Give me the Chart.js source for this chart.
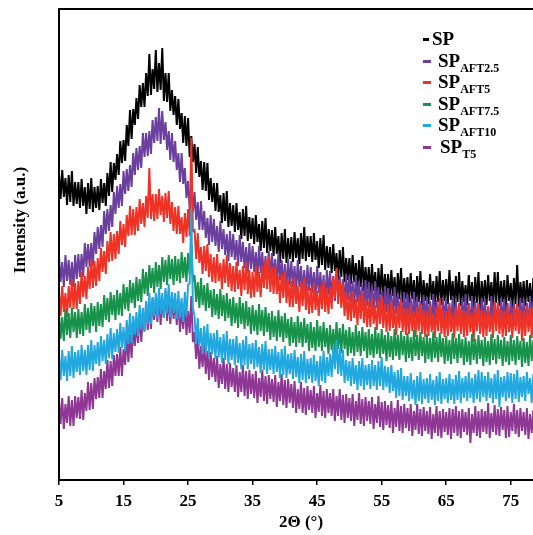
<!DOCTYPE html>
<html>
<head>
<meta charset="utf-8">
<script src="https://cdn.jsdelivr.net/npm/chart.js@4.4.1/dist/chart.umd.min.js"></script>
<style>
  html, body { margin: 0; padding: 0; background: #fff; overflow: hidden; }
  #wrap { position: relative; width: 533px; height: 535px; overflow: hidden; }
  #xrd { position: absolute; left: 0; top: 0; }
  #legend { position: absolute; left: 423px; top: 28px; font-family: "Liberation Serif", "Times New Roman", serif; font-weight: bold; color: #000; }
  .row { position: absolute; left: 0; height: 22px; white-space: nowrap; }
  .dash { position: absolute; top: 10px; height: 3px; }
  .name { position: absolute; top: 0; font-size: 19px; line-height: 22px; }
  .name sub { font-size: 12px; vertical-align: -5px; line-height: 0; }
</style>
</head>
<body>
<div id="wrap">
  <canvas id="xrd" width="545" height="535"></canvas>
  <div id="legend"></div>
</div>
<script>
// 2-theta grid (degrees), one row per degree
const twoTheta = [
  5,5.25,5.5,5.75, 6,6.25,6.5,6.75, 7,7.25,7.5,7.75, 8,8.25,8.5,8.75, 9,9.25,9.5,9.75,
  10,10.25,10.5,10.75, 11,11.25,11.5,11.75, 12,12.25,12.5,12.75, 13,13.25,13.5,13.75, 14,14.25,14.5,14.75,
  15,15.25,15.5,15.75, 16,16.25,16.5,16.75, 17,17.25,17.5,17.75, 18,18.25,18.5,18.75, 19,19.25,19.5,19.75,
  20,20.25,20.5,20.75, 21,21.25,21.5,21.75, 22,22.25,22.5,22.75, 23,23.25,23.5,23.75, 24,24.25,24.5,24.75,
  25,25.25,25.5,25.75, 26,26.25,26.5,26.75, 27,27.25,27.5,27.75, 28,28.25,28.5,28.75, 29,29.25,29.5,29.75,
  30,30.25,30.5,30.75, 31,31.25,31.5,31.75, 32,32.25,32.5,32.75, 33,33.25,33.5,33.75, 34,34.25,34.5,34.75,
  35,35.25,35.5,35.75, 36,36.25,36.5,36.75, 37,37.25,37.5,37.75, 38,38.25,38.5,38.75, 39,39.25,39.5,39.75,
  40,40.25,40.5,40.75, 41,41.25,41.5,41.75, 42,42.25,42.5,42.75, 43,43.25,43.5,43.75, 44,44.25,44.5,44.75,
  45,45.25,45.5,45.75, 46,46.25,46.5,46.75, 47,47.25,47.5,47.75, 48,48.25,48.5,48.75, 49,49.25,49.5,49.75,
  50,50.25,50.5,50.75, 51,51.25,51.5,51.75, 52,52.25,52.5,52.75, 53,53.25,53.5,53.75, 54,54.25,54.5,54.75,
  55,55.25,55.5,55.75, 56,56.25,56.5,56.75, 57,57.25,57.5,57.75, 58,58.25,58.5,58.75, 59,59.25,59.5,59.75,
  60,60.25,60.5,60.75, 61,61.25,61.5,61.75, 62,62.25,62.5,62.75, 63,63.25,63.5,63.75, 64,64.25,64.5,64.75,
  65,65.25,65.5,65.75, 66,66.25,66.5,66.75, 67,67.25,67.5,67.75, 68,68.25,68.5,68.75, 69,69.25,69.5,69.75,
  70,70.25,70.5,70.75, 71,71.25,71.5,71.75, 72,72.25,72.5,72.75, 73,73.25,73.5,73.75, 74,74.25,74.5,74.75,
  75,75.25,75.5,75.75, 76,76.25,76.5,76.75, 77,77.25,77.5,77.75, 78,78.25,78.5,78.75, 79,79.25,79.5,79.75,
  80
];

// intensities (a.u.)
const sp = [
  295,269,298,271, 290,263,293,266, 297,262,286,264, 286,260,289,262, 281,254,285,259,
  290,256,281,260, 282,258,289,265, 285,262,295,272, 306,276,305,288, 314,293,327,305,
  328,307,343,322, 358,329,359,343, 370,349,383,361, 385,361,395,372, 414,373,399,379,
  418,376,405,378, 420,367,395,366, 395,357,378,353, 372,343,369,339, 355,325,352,322,
  350,311,332,306, 324,295,321,291, 307,278,306,277, 305,268,290,266, 285,257,285,256,
  273,245,275,247, 277,241,265,242, 263,236,265,238, 256,229,259,232, 262,227,251,229,
  250,224,253,226, 244,217,247,220, 250,215,239,217, 238,212,241,214, 232,205,235,209,
  239,205,230,209, 231,206,236,210, 230,204,235,209, 241,207,232,211, 232,206,235,208,
  227,200,230,203, 233,198,222,200, 221,195,224,197, 215,188,218,191, 221,186,210,188,
  210,184,213,186, 205,178,208,181, 212,177,201,179, 201,175,204,177, 196,169,200,173,
  204,169,194,172, 194,168,198,172, 191,164,195,169, 200,165,190,169, 191,165,195,169,
  188,161,192,166, 197,163,188,167, 185,164,194,168, 187,161,192,166, 197,163,188,167,
  189,164,198,168, 187,161,192,166, 196,162,187,166, 183,163,193,167, 186,160,191,165,
  196,157,187,166, 188,163,193,167, 186,160,196,165, 196,162,187,166, 188,158,193,167,
  185,159,190,164, 203,161,186,165, 187,162,188,166, 185,159,190,164, 195,161,186,165,
  187
];
const spAft25 = [
  211,186,206,181, 213,187,208,183, 206,181,213,189, 214,191,214,191, 225,201,224,201,
  225,202,236,214, 241,219,243,221, 257,234,259,237, 263,241,276,254, 282,260,284,262,
  297,274,299,277, 303,281,315,293, 320,298,322,300, 335,311,335,312, 337,314,348,325,
  351,327,360,324, 357,328,346,318, 337,308,335,306, 327,298,315,286, 315,284,300,270,
  287,258,285,256, 276,248,266,238, 267,238,257,230, 250,223,253,226, 249,222,242,216,
  247,219,239,213, 234,207,237,211, 234,208,228,202, 233,206,226,200, 221,195,225,199,
  222,196,216,190, 222,195,216,190, 212,186,217,191, 215,189,209,183, 215,188,208,182,
  204,178,209,183, 207,181,202,176, 208,181,202,176, 198,172,203,177, 201,175,196,170,
  202,175,196,171, 193,167,198,173, 197,171,192,167, 199,172,193,167, 189,163,194,168,
  192,166,187,161, 193,166,187,161, 183,157,188,162, 186,160,181,155, 187,160,181,155,
  177,151,182,156, 180,154,175,149, 181,154,175,149, 171,145,176,150, 174,149,170,144,
  176,150,171,145, 167,142,173,147, 171,146,167,142, 174,147,168,143, 165,140,171,146,
  169,144,165,140, 172,146,167,142, 164,139,170,145, 174,144,165,140, 172,146,167,142,
  164,139,170,145, 169,144,160,140, 172,146,167,142, 164,139,170,145, 169,144,165,140,
  168,146,167,142, 164,139,170,145, 169,144,165,140, 172,150,167,142, 164,139,170,145,
  169
];
const spAft5 = [
  177,152,182,156, 175,151,182,160, 189,159,185,159, 187,164,196,171, 192,169,201,179,
  209,180,207,182, 210,187,220,196, 217,194,227,206, 236,207,234,209, 237,214,247,223,
  244,221,253,232, 262,233,259,233, 261,237,269,244, 265,241,272,250, 300,249,274,247,
  274,249,279,253, 272,246,275,250, 277,244,266,237, 261,234,262,234, 251,225,255,231,
  259,232,330,236, 239,209,235,205, 221,194,222,197, 224,191,214,186, 211,185,214,187,
  205,179,209,185, 213,181,205,177, 202,176,206,179, 198,172,202,178, 206,174,198,170,
  196,171,202,176, 196,171,202,180, 209,179,212,176, 201,174,202,174, 192,165,194,170,
  197,165,189,161, 187,161,191,164, 182,156,186,162, 190,158,182,154, 180,155,185,158,
  177,152,182,159, 187,156,180,154, 181,159,192,170, 200,164,188,160, 184,152,176,148,
  173,147,177,150, 169,143,173,149, 177,145,169,141, 167,141,171,144, 163,138,168,144,
  172,140,164,136, 162,137,167,140, 159,133,163,140, 168,136,160,133, 159,134,163,137,
  156,131,161,137, 165,134,158,131, 157,132,162,136, 155,130,160,137, 170,134,158,131,
  157,132,162,136, 155,130,160,137, 165,134,158,131, 157,132,162,136, 155,126,160,137,
  165,134,158,131, 157,132,162,136, 155,130,166,137, 165,134,158,131, 157,132,162,136,
  155,130,160,137, 165,134,158,127, 157,132,162,136, 160,130,160,137, 165,134,158,131,
  157
];
const spAft75 = [
  154,129,151,127, 159,133,155,130, 160,136,156,130, 159,134,156,132, 164,138,160,135,
  165,142,162,136, 166,142,164,141, 173,148,170,146, 176,153,173,148, 178,153,175,152,
  184,159,181,157, 188,165,185,160, 191,167,189,166, 199,174,196,172, 203,180,200,175,
  206,181,203,179, 211,186,208,183, 213,189,209,183, 212,187,209,185, 216,190,211,186,
  215,193,222,186, 193,166,186,160, 190,163,183,157, 185,160,178,151, 179,153,174,149,
  179,152,173,147, 175,150,169,142, 171,145,165,140, 171,144,165,139, 167,142,161,134,
  163,137,158,133, 164,137,158,132, 161,136,155,128, 157,131,152,127, 158,131,152,126,
  155,130,149,122, 151,125,146,121, 152,125,146,121, 150,125,144,117, 146,120,141,117,
  148,121,142,117, 146,121,140,114, 143,118,139,115, 146,119,140,115, 144,119,138,112,
  141,115,136,112, 143,116,137,112, 141,117,136,110, 139,113,134,110, 141,114,135,110,
  139,114,133,107, 136,111,132,108, 139,112,133,108, 137,113,132,106, 135,110,131,107,
  138,112,133,108, 136,112,131,105, 134,109,130,106, 136,110,131,106, 135,111,130,104,
  132,107,128,104, 135,109,130,105, 134,110,129,103, 131,106,127,103, 134,108,129,104,
  133,109,128,102, 131,106,127,103, 134,108,129,104, 133,109,128,102, 131,106,127,103,
  133,107,128,103, 132,108,127,101, 130,105,126,102, 133,107,128,103, 131,107,126,100,
  129
];
const spAft10 = [
  113,88,118,92, 112,87,117,92, 122,90,116,96, 118,93,123,97, 118,93,123,98,
  128,97,123,104, 126,102,132,107, 128,104,134,110, 140,109,135,116, 139,115,145,120,
  141,117,148,124, 155,125,152,133, 156,132,163,138, 160,136,167,144, 175,144,171,152,
  175,150,180,154, 175,150,180,155, 184,151,176,155, 175,149,177,150, 170,146,176,152,
  183,185,258,160, 152,124,150,122, 140,114,142,116, 144,111,135,114, 135,109,138,111,
  131,105,134,108, 137,104,129,108, 129,103,132,105, 125,99,128,103, 132,99,124,104,
  125,99,128,101, 121,95,124,98, 127,94,119,98, 119,94,122,96, 116,90,119,93,
  122,90,114,94, 115,89,118,91, 111,85,114,88, 117,85,109,89, 110,85,113,87,
  107,82,112,87, 117,85,111,92, 114,91,122,99, 128,94,120,92, 118,85,108,87,
  107,82,110,84, 103,78,107,82, 110,78,103,83, 104,79,108,82, 103,78,107,82,
  111,78,102,81, 101,75,103,77, 96,70,98,72, 100,68,92,72, 92,67,95,69,
  88,63,92,67, 96,64,89,69, 90,65,94,68, 88,63,92,67, 96,64,89,69,
  90,65,94,68, 89,64,93,68, 97,65,90,70, 92,67,96,70, 90,65,94,69,
  98,66,96,71, 92,67,96,70, 90,65,94,69, 98,61,91,71, 92,67,96,70,
  95,65,94,69, 98,66,91,71, 92,67,96,74, 90,65,94,69, 98,66,91,71,
  92
];
const spT5 = [
  67,44,70,39, 64,45,72,42, 68,42,72,50, 71,49,78,48, 75,57,86,58,
  85,59,90,69, 91,70,99,70, 97,79,108,80, 107,82,113,92, 114,92,121,92,
  119,103,133,106, 134,110,142,122, 145,125,155,126, 154,137,166,138, 165,139,170,148,
  169,146,174,143, 169,150,177,147, 172,144,173,149, 168,143,169,136, 159,139,165,133,
  157,135,172,126, 136,109,133,99, 122,101,126,94, 117,88,116,91, 110,86,112,80,
  104,84,110,79, 104,76,105,81, 100,76,103,71, 96,76,103,72, 97,69,98,74,
  94,70,97,65, 90,71,98,67, 92,64,93,69, 89,66,93,61, 86,67,94,63,
  88,60,89,65, 84,60,87,55, 79,59,86,55, 80,53,82,58, 78,55,82,50,
  75,56,83,52, 77,50,79,55, 75,52,79,47, 72,52,79,48, 73,45,74,50,
  70,47,74,42, 67,48,75,44, 69,42,71,47, 67,44,71,39, 64,45,72,41,
  66,38,67,43, 63,40,67,35, 60,41,68,37, 62,35,64,40, 60,37,64,32,
  57,38,64,34, 59,32,61,37, 57,34,61,29, 54,35,62,32, 57,30,59,36,
  56,33,60,29, 59,35,62,32, 57,30,59,36, 56,33,60,25, 54,35,62,32,
  57,30,59,36, 57,34,65,30, 55,36,63,33, 59,32,61,38, 58,30,62,31,
  56,37,64,34, 58,31,60,37, 56,33,60,29, 54,35,58,32, 56,29,58,35,
  55
];

const xTicks = [5, 15, 25, 35, 45, 55, 65, 75];
const seriesNames = ["SP", "SP", "SP", "SP", "SP", "SP"];
const seriesSubs = ["", "AFT2.5", "AFT5", "AFT7.5", "AFT10", "T5"];
const seriesColors = ["#000000", "#6A3F9E", "#EE3326", "#17924A", "#22A8E0", "#8E3794"];
const seriesData = [sp, spAft25, spAft5, spAft75, spAft10, spT5];
// lower number is drawn on top
const drawOrder = [5, 4, 3, 2, 0, 1];

const serif = "'Liberation Serif', 'Times New Roman', serif";

const datasets = seriesData.map((vals, i) => ({
  label: seriesNames[i] + seriesSubs[i],
  data: vals.map((v, k) => ({ x: twoTheta[k], y: v })),
  borderColor: seriesColors[i],
  borderWidth: 2,
  borderJoinStyle: "bevel",
  pointRadius: 0,
  tension: 0,
  order: drawOrder[i]
}));

// plot frame and the rotated y label
const framePlugin = {
  id: "frame",
  afterDatasetsDraw(chart) {
    const { ctx, chartArea } = chart;
    ctx.save();
    ctx.strokeStyle = "#000";
    ctx.lineWidth = 2;
    ctx.strokeRect(chartArea.left, chartArea.top, chartArea.right - chartArea.left, chartArea.bottom - chartArea.top);
    ctx.restore();
  },
  afterDraw(chart) {
    const ctx = chart.ctx;
    ctx.save();
    ctx.translate(21, 220);
    ctx.rotate(-Math.PI / 2);
    ctx.font = "bold 17px " + serif;
    ctx.fillStyle = "#000";
    ctx.textAlign = "center";
    ctx.textBaseline = "middle";
    ctx.fillText("Intensity (a.u.)", 0, 0);
    ctx.restore();
  }
};

new Chart(document.getElementById("xrd").getContext("2d"), {
  type: "line",
  data: { datasets: datasets },
  options: {
    responsive: false,
    animation: false,
    layout: { padding: { top: 9, right: 2, left: 0, bottom: 0 } },
    plugins: { legend: { display: false }, tooltip: { enabled: false } },
    scales: {
      x: {
        type: "linear",
        min: 5,
        max: 80,
        afterBuildTicks: (s) => { s.ticks = xTicks.map(v => ({ value: v })); },
        afterFit: (s) => { s.height = 55; },
        grid: { drawOnChartArea: false, drawTicks: true, tickLength: 5, color: "#000", lineWidth: 1.5 },
        border: { display: false },
        ticks: { color: "#000", font: { family: serif, size: 17, weight: "bold" }, padding: 6, maxRotation: 0, autoSkip: false },
        title: { display: true, text: "2Θ (°)", color: "#000", font: { family: serif, size: 17, weight: "bold" }, padding: { top: 0, bottom: 2 } }
      },
      y: {
        min: -12,
        max: 459,
        afterFit: (s) => { s.width = 59; },
        grid: { display: false },
        border: { display: false },
        ticks: { display: false }
      }
    }
  },
  plugins: [framePlugin]
});

// legend with subscripts
const legend = document.getElementById("legend");
seriesNames.forEach((name, i) => {
  const row = document.createElement("div");
  row.className = "row";
  row.style.top = (i * 21.5) + "px";
  const dash = document.createElement("span");
  dash.className = "dash";
  dash.style.left = "0px";
  dash.style.width = (i === 0 ? 6 : 8) + "px";
  dash.style.background = seriesColors[i];
  const txt = document.createElement("span");
  txt.className = "name";
  txt.style.left = (i === 0 ? 9 : (i === 5 ? 17 : 15)) + "px";
  txt.innerHTML = name + (seriesSubs[i] ? "<sub>" + seriesSubs[i] + "</sub>" : "");
  row.appendChild(dash);
  row.appendChild(txt);
  legend.appendChild(row);
});
</script>
</body>
</html>
